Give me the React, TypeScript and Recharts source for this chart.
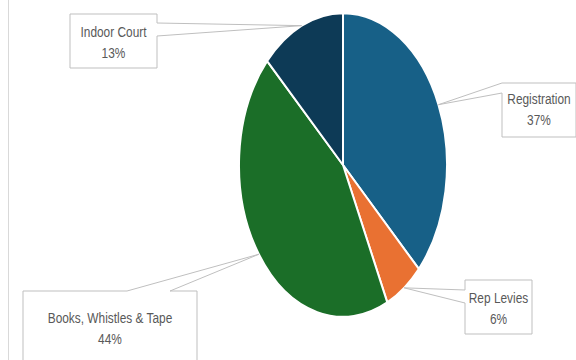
import { PieChart, Pie, Cell } from 'recharts'

const categories = ['Registration', 'Rep Levies', 'Books, Whistles & Tape', 'Indoor Court']
const shares = [37, 6, 44, 13]
const colors = ['#176087', '#e97132', '#1b6e28', '#0d3a56']

const data = categories.map((name, i) => ({ name, value: shares[i] }))

// pie is drawn as an ellipse, taller than wide
const STRETCH = 1.46
const RAD = Math.PI / 180

// callout boxes: rect, edge the pointer leaves from, pointer base on that edge, first text line offset
const callouts = [
  { x: 502, y: 83, w: 74, h: 54, side: 'left', base: [83, 93], textTop: 16 },
  { x: 465, y: 280, w: 67, h: 54, side: 'left', base: [290, 303], textTop: 18 },
  { x: 23, y: 291, w: 174, h: 80, side: 'top', base: [127, 170], textTop: 27 },
  { x: 70, y: 14, w: 87, h: 54, side: 'right', base: [23, 36], textTop: 18 },
]

// narrow look: Liberation Sans squeezed horizontally
const font = "'Liberation Sans', Arial, sans-serif"
const SQUEEZE = 0.82

function EllipseSector(props: any) {
  const { cx, cy, outerRadius, startAngle, endAngle, fill } = props
  const rx = outerRadius
  const ry = outerRadius * STRETCH
  const pt = (a: number) => [cx + rx * Math.cos(-a * RAD), cy + ry * Math.sin(-a * RAD)]
  const [x1, y1] = pt(startAngle)
  const [x2, y2] = pt(endAngle)
  const large = Math.abs(startAngle - endAngle) > 180 ? 1 : 0
  const sweep = startAngle > endAngle ? 1 : 0
  return (
    <path
      d={`M${cx},${cy} L${x1},${y1} A${rx},${ry} 0 ${large} ${sweep} ${x2},${y2} Z`}
      fill={fill}
      stroke="#ffffff"
      strokeWidth={2}
      strokeLinejoin="round"
    />
  )
}

function renderCallout(props: any) {
  const { cx, cy, midAngle, outerRadius, index, name, percent } = props
  const c = callouts[index]
  const tx = cx + outerRadius * Math.cos(-midAngle * RAD)
  const ty = cy + outerRadius * STRETCH * Math.sin(-midAngle * RAD)
  const { x, y, w, h } = c
  const [b1, b2] = c.base
  let d = ''
  if (c.side === 'left') {
    d = `M${x},${y} H${x + w} V${y + h} H${x} V${b2} L${tx},${ty} L${x},${b1} Z`
  } else if (c.side === 'right') {
    d = `M${x},${y} H${x + w} V${b1} L${tx},${ty} L${x + w},${b2} V${y + h} H${x} Z`
  } else {
    d = `M${x},${y} H${b1} L${tx},${ty} L${b2},${y} H${x + w} V${y + h} H${x} Z`
  }
  const mid = x + w / 2
  const textProps = {
    textAnchor: 'middle' as const,
    dominantBaseline: 'central' as const,
    fill: '#595959',
    fontSize: 14.5,
    fontFamily: font,
  }
  return (
    <g key={`callout-${index}`}>
      <path d={d} fill="#ffffff" stroke="#bfbfbf" strokeWidth={1} />
      <g transform={`translate(${mid},0) scale(${SQUEEZE},1)`}>
        <text x={0} y={y + c.textTop} {...textProps}>
          {name}
        </text>
        <text x={0} y={y + c.textTop + 21} {...textProps}>
          {`${Math.round(percent * 100)}%`}
        </text>
      </g>
    </g>
  )
}

export default function App() {
  return (
    <div style={{ position: 'absolute', left: 0, top: 0, width: 576, height: 360, background: '#ffffff' }}>
      <div style={{ position: 'absolute', left: 8, top: 0, width: 1, height: 360, background: '#d9d9d9' }} />
      <PieChart width={576} height={360} margin={{ top: 0, right: 0, bottom: 0, left: 0 }}>
        <Pie
          data={data}
          dataKey="value"
          nameKey="name"
          cx={343}
          cy={165}
          outerRadius={104}
          startAngle={90}
          endAngle={-270}
          stroke="#ffffff"
          isAnimationActive={false}
          labelLine={false}
          label={renderCallout}
          shape={EllipseSector}
        >
          {data.map((d, i) => (
            <Cell key={d.name} fill={colors[i]} />
          ))}
        </Pie>
      </PieChart>
    </div>
  )
}
